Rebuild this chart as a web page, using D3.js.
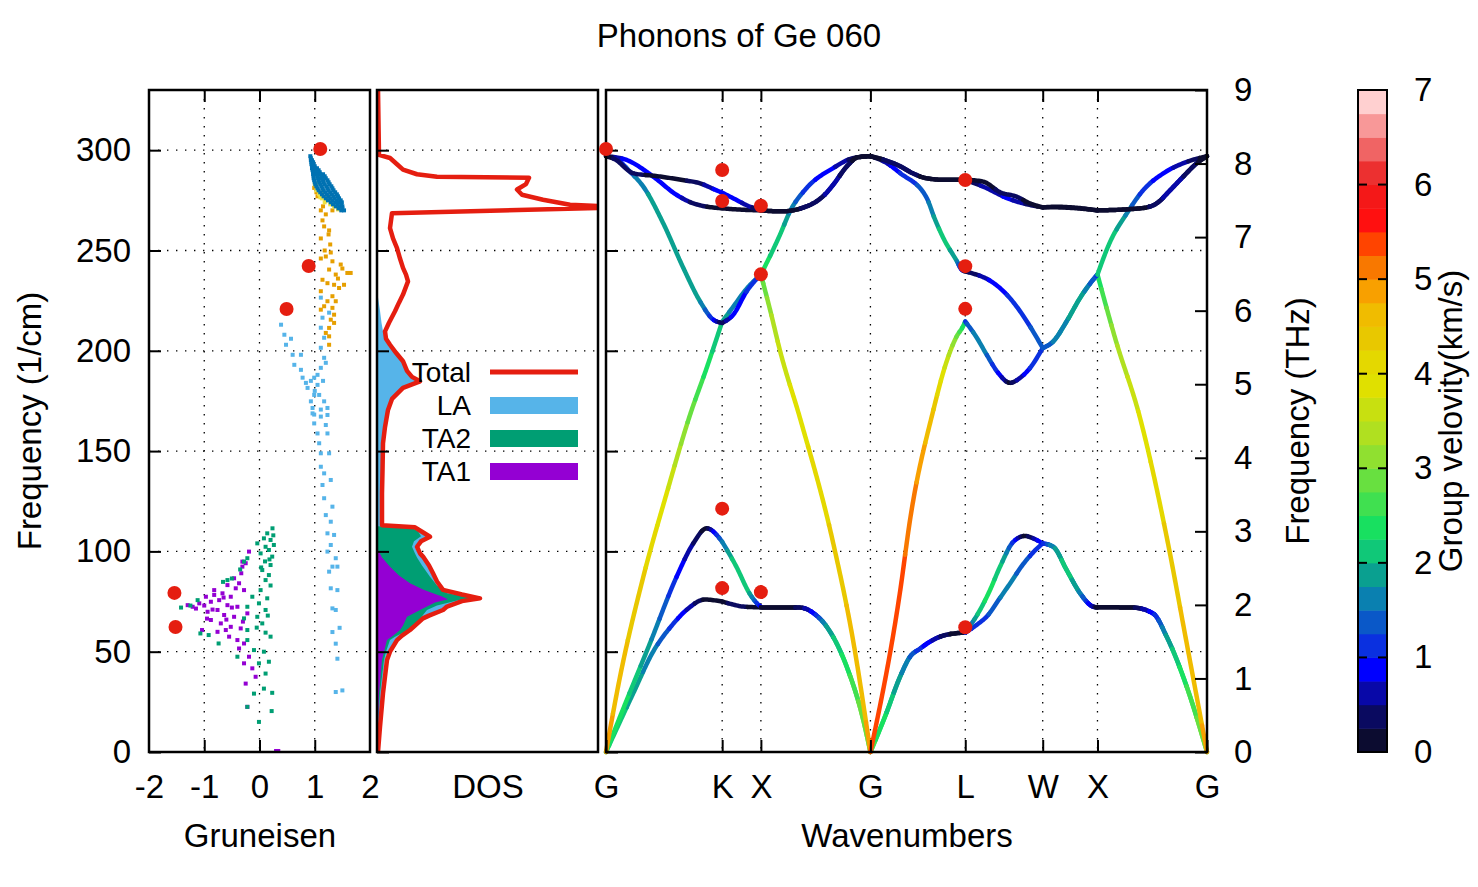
<!DOCTYPE html>
<html><head><meta charset="utf-8">
<script src="https://cdn.jsdelivr.net/npm/d3@7"></script>
<style>body{margin:0;background:#fff}</style>
</head><body>
<svg id="c" width="1478" height="887"></svg>
<script>
// ---------------- DATA ----------------
const freqTicks = [0,50,100,150,200,250,300];
const gruTicks = [-2,-1,0,1,2];
const thzTicks = [0,1,2,3,4,5,6,7,8,9];
const velTicks = [0,1,2,3,4,5,6,7];
const kLabels = ["G","K","X","G","L","W","X","G"];
const kTicks = [0,1.0607,1.4142,2.4142,3.2802,3.9873,4.4873,5.4873];
const legendLabels = ["Total","LA","TA2","TA1"];

// band branches: [k (2pi/a), frequency (1/cm), group velocity (km/s)]
const bandTA1 = [
[0,0,2.3],[0.249,29.3,1.9],[0.43,50,1.6],[0.60,63,1.2],[0.75,71.5,0.7],[0.90,76,0.2],[1.0607,75,0.2],
[1.16,73.5,0.3],[1.25,72.5,0.3],[1.4142,72.1,0.1],
[1.60,72,0.1],[1.771,72,0.3],[1.90,69,0.9],[2.015,62.5,1.8],[2.198,42.5,2.4],[2.349,16,2.9],[2.4142,0,3.0],
[2.4142,0,2.6],[2.55,18,2.3],[2.685,37.5,1.8],[2.776,47.5,1.5],[2.867,51.5,1.1],[2.93,54,0.9],[3.05,57.5,0.5],[3.17,59,0.2],[3.2802,59.5,0.1],
[3.2802,59.5,0.9],[3.40,64,1.1],[3.476,67.5,1.2],[3.60,77,1.5],[3.689,84,1.6],[3.80,93,1.4],[3.90,99.5,1.2],[3.9873,104,1.0],
[4.084,102.3,1.5],[4.206,90.7,2.0],[4.33,79,1.5],[4.45,72.4,0.5],[4.4873,72.1,0.1],
[4.65,72.1,0.1],[4.812,72,0.2],[4.997,69,0.9],[5.119,57.5,1.8],[5.302,32.6,2.5],[5.4873,0,3.0]
];
const bandTA2 = [
[0,0,2.3],[0.19,26,2.3],[0.40,54,1.8],[0.645,87.4,1.0],[0.797,104,0.5],[0.919,111.5,0.1],[1.0607,104.8,1.5],
[1.19,92.4,2.2],[1.31,79.1,2.0],[1.38,74,1.2],[1.4142,72.4,0.9],
[1.4142,72.1,0.1],[1.60,72,0.1],[1.771,72,0.3],[1.90,69,0.9],[2.015,62.5,1.8],[2.198,42.5,2.4],[2.349,16,2.9],[2.4142,0,3.0],
[2.4142,0,2.6],[2.55,18,2.3],[2.685,37.5,1.8],[2.776,47.5,1.5],[2.867,51.5,1.1],[2.93,54,0.9],[3.05,57.5,0.5],[3.17,59,0.2],[3.2802,59.5,0.1],
[3.2802,59.5,1.0],[3.415,70.8,2.2],[3.50,80,2.3],[3.598,92.4,2.2],[3.719,104.8,1.2],[3.826,107.7,0.1],[3.90,106.5,0.5],[3.9873,104,1.0],
[4.084,102.3,1.7],[4.206,90.7,2.2],[4.33,79,1.7],[4.45,72.4,0.6],[4.4873,72.1,0.1],
[4.65,72.1,0.1],[4.812,72,0.2],[4.997,69,0.9],[5.119,57.5,1.8],[5.302,32.6,2.5],[5.4873,0,3.0]
];
const bandLA = [
[0,0,4.9],[0.128,37.5,4.6],[0.341,87.4,4.3],[0.554,129,3.8],[0.77,168.5,2.9],[0.919,191.4,2.4],[1.0607,214.5,2.0],
[1.162,222,1.6],[1.285,231,1.6],[1.4142,238,1.7],
[1.4142,238,2.6],[1.50,220,3.2],[1.589,200,3.6],[1.771,166.5,3.9],[2.075,104,4.3],[2.258,55,4.6],[2.4142,0,4.8],
[2.4142,0,5.4],[2.685,80,5.3],[2.776,115.7,5.2],[2.989,170.5,4.5],[3.10,193,3.7],[3.20,207,3.0],[3.263,212.5,2.4],[3.2802,214.6,2.2],
[3.2802,214.6,1.2],[3.38,207,1.6],[3.476,198,1.5],[3.58,189,1.0],[3.689,184,0.2],[3.78,186.5,0.6],[3.871,191.4,1.0],[3.9873,201.4,1.2],
[4.084,204.7,1.8],[4.206,214.7,2.2],[4.328,226.3,2.2],[4.435,234.6,1.6],[4.4873,238,1.3],
[4.4873,238,2.3],[4.65,206,3.2],[4.876,166.5,3.8],[5.119,107.3,4.3],[5.302,54.2,4.6],[5.4873,0,4.8]
];
const bandLO = [
[0,297,0.1],[0.11,295,0.9],[0.219,289.3,1.4],[0.341,281.8,1.7],[0.523,263.5,1.9],[0.706,241.3,2.0],[0.858,224.7,1.8],[0.98,215.5,1.0],[1.0607,213.9,0.3],
[1.162,218,0.9],[1.285,229.7,1.0],[1.4142,238,1.2],
[1.4142,238,2.3],[1.589,257.9,2.2],[1.68,269.5,1.7],[1.833,281.2,1.1],[2.075,291.1,0.8],[2.258,296.1,0.4],[2.4142,297,0.1],
[2.55,294,0.6],[2.685,288.6,1.0],[2.928,276.2,1.4],[3.0,266,1.8],[3.08,256.2,2.2],[3.20,245,1.8],[3.248,240.4,0.9],[3.2802,239.6,0.2],
[3.38,238,0.4],[3.476,235.9,0.7],[3.57,232.5,0.9],[3.659,228,1.0],[3.75,222,1.1],[3.842,214.7,1.2],[3.9873,201.4,1.4],
[4.084,204.7,1.5],[4.206,214.7,1.7],[4.328,226.3,2.0],[4.435,234.6,1.4],[4.4873,238,1.2],
[4.4873,238,2.2],[4.60,254,2.2],[4.755,268.5,1.7],[4.907,280.2,1.1],[5.09,288.5,0.9],[5.27,293.5,0.6],[5.4873,297,0.1]
];
const bandTOa = [
[0,297,0.1],[0.08,295.5,0.3],[0.249,288.5,0.3],[0.46,287.1,0.2],[0.70,285.1,0.2],[0.858,283.5,0.4],[1.0,280.2,0.8],[1.0607,278.8,0.9],
[1.162,276,0.9],[1.315,271.8,0.6],[1.4142,270,0.1],
[1.60,269.5,0.1],[1.833,272,0.3],[2.0,278,0.5],[2.075,282.8,0.6],[2.20,292,0.4],[2.30,296.5,0.1],[2.4142,297,0],
[2.55,295,0.3],[2.685,292,0.3],[2.80,288.5,0.3],[2.928,286,0.2],[3.10,285.2,0],[3.2802,285.3,0],
[3.445,284.3,0.1],[3.60,279,0.3],[3.75,276.8,0.3],[3.87,273.5,0.2],[3.9873,271.5,0],
[4.10,271.8,0.1],[4.25,271.5,0.1],[4.4873,270,0],
[4.75,270.5,0.1],[4.937,271.5,0.2],[5.028,273.5,0.4],[5.15,280,0.6],[5.27,286.8,0.5],[5.394,293.5,0.3],[5.4873,297,0]
];
const bandTOb = [
[0,297,0.2],[0.189,295.1,0.9],[0.432,286.8,1.0],[0.645,277.7,0.9],[0.797,273.5,0.4],[1.0607,271,0.1],
[1.25,270.3,0],[1.4142,270,0],
[1.60,269.5,0.1],[1.833,272,0.3],[2.0,278,0.5],[2.075,282.8,0.6],[2.20,292,0.4],[2.30,296.5,0.1],[2.4142,297,0],
[2.55,295,0.3],[2.685,292,0.3],[2.80,288.5,0.3],[2.928,286,0.2],[3.10,285.2,0],[3.2802,285.3,0],
[3.445,281.8,0.6],[3.689,275.5,0.8],[3.87,272.7,0.4],[3.9873,271.5,0.1],
[4.10,271.5,0.1],[4.25,271.2,0.1],[4.4873,270,0],
[4.75,270.5,0.1],[4.937,271.5,0.2],[5.028,273.5,0.4],[5.15,280,0.6],[5.27,286.8,0.5],[5.394,293.5,0.3],[5.4873,297,0]
];
// experimental points on the band structure [k, freq]
const expBand = [[0,300.6],[1.0607,290.1],[1.0607,274.7],[1.0607,121.3],[1.0607,81.7],[1.4142,272.3],[1.4142,238.1],[1.4142,79.7],
[3.2802,285.1],[3.2802,242.2],[3.2802,220.9],[3.2802,62.2]];
// experimental Gruneisen [gamma, freq]
const expGru = [[1.10,300.6],[0.89,242.3],[0.49,220.8],[-1.54,79.3],[-1.52,62.3]];

// Gruneisen parameters [gamma, freq]
const gruTA1 = [[-0.19,99.9],[-0.31,94.9],[-0.25,94.1],[-0.31,92.4],[-0.33,89.1],[-0.46,86.6],[-0.37,84.1],[-0.58,83.2],[-0.43,81.6],[-0.82,80.7],[-0.28,80.7],[-0.67,79.1],[-0.82,78.3],[-0.52,77.4],[-0.97,77.4],[-0.73,75.7],[-0.88,74.9],[-1.09,74.1],[-1.3,73.2],[-0.58,73.2],[-1.21,72.4],[-0.4,72.4],[-0.76,70.8],[-0.94,69.9],[-0.22,69.1],[-0.64,68.3],[-0.46,67.4],[-0.88,65.8],[-0.7,64.1],[-0.52,62.4],[-0.34,61.6],[-1.04,60.8],[-0.61,60.8],[-0.76,59.9],[-0.4,55.8],[-0.28,54.1],[-0.37,51.6],[-0.19,47.5],[-0.28,44.2],[-0.13,41.7],[-0.07,37.5],[-0.25,34.1],[-0.22,22.5],[-1.0,73],[-0.65,77],[-0.5,72],[-0.85,71],[-0.6,66],[-0.3,65],[-1.15,71.5],[-0.95,66.5],[-0.55,57.5],[0.3,0.5],[0.34,0.5]];
const gruTA2 = [[0.235,111.5],[0.14,109],[0.08,106.5],[0.2,105.7],[-0.04,104],[0.26,103.2],[0.11,102.3],[0.17,100.7],[0.02,99],[0.23,97.4],[-0.22,96.6],[-0.28,94.9],[0.2,93.2],[0.05,90.7],[0.17,88.2],[-0.58,85.7],[-0.66,84.8],[0.11,85.7],[0.02,80.7],[-0.13,77.4],[0.14,76.6],[-1.12,75.7],[-1.42,72],[-0.01,74.1],[-0.22,72.4],[0.11,70.8],[-0.04,67.4],[-0.28,66.6],[0.05,64.1],[-0.22,60.8],[0.11,59.5],[-1.07,59.1],[-0.92,58.3],[0.2,57.5],[-0.22,55.8],[-0.1,50.8],[0.08,50],[-0.4,47.5],[-0.01,44.2],[0.17,45],[0.11,39.1],[0.08,31.6],[0.23,29.5],[-0.1,29.1],[-0.22,22.5],[0.22,20.4],[-0.01,15],[-0.74,54.1],[0.25,108],[0.18,96],[0.1,95],[-0.5,86.5],[-1.25,73],[0.2,83],[-0.05,62],[0.15,68],[-0.35,91],[0.03,92]];
const gruLA = [[0.39,213],[0.45,208],[0.57,206],[0.48,203],[0.6,198],[0.75,198],[0.63,193],[0.75,190.5],[0.78,186.6],[0.84,184],[0.93,185],[0.87,181.5],[0.99,186.6],[1.11,191.5],[1.17,196.5],[1.11,201.5],[1.17,206.5],[1.11,211.5],[1.14,216.5],[1.26,219],[1.11,226.5],[1.05,188],[0.99,178],[1.08,178],[0.93,174.8],[1.17,174.8],[0.96,171.5],[1.11,170.7],[1.23,171.5],[0.99,168.2],[0.96,168.8],[1.11,167.2],[1.23,168],[0.99,163.8],[1.2,163],[1.05,158.8],[1.23,158.8],[1.08,153.9],[1.11,148.9],[1.26,148.9],[1.11,142.2],[1.17,138.9],[1.29,135.6],[1.14,133.1],[1.17,126.5],[1.32,122.3],[1.2,118.1],[1.29,114.8],[1.23,109],[1.35,108.2],[1.29,103.2],[1.23,99.9],[1.38,96.6],[1.32,92.4],[1.41,92.4],[1.26,89.9],[1.29,81.6],[1.41,80.7],[1.32,71.6],[1.38,70.8],[1.32,59.8],[1.45,61.9],[1.38,54],[1.41,46.5],[1.38,29.9],[1.5,30.7],[1.0,180],[1.05,183],[1.15,185],[1.2,194]];
const gruLO = [[0.99,281.2],[1.05,277],[1.23,277],[1.11,270],[1.32,270],[1.14,265],[1.17,262],[1.26,260],[1.11,256],[1.28,253],[1.29,249],[1.11,246],[1.2,247],[1.32,244.6],[1.47,243],[1.26,240.5],[1.59,238.8],[1.65,238.8],[1.38,238],[1.14,235.4],[1.23,233.7],[1.35,232.9],[1.53,232.9],[1.44,231.3],[1.11,229.7],[1.32,227.2],[1.23,224.7],[1.38,224.7],[1.17,222.2],[1.32,221.4],[1.11,220.5],[1.35,218],[1.29,215.5],[1.35,213.9],[1.26,211.4],[1.2,208.9],[1.26,207.2],[1.26,203],[1.03,279],[1.15,272],[1.2,268],[1.25,258],[1.18,250],[1.42,236],[1.5,241]];
const gruTO1 = [[1.0,283],[1.03,280],[1.08,278],[1.13,276],[1.2,275],[1.28,273],[1.35,272],[1.42,270.5],[1.05,283.5],[1.15,279.5],[1.25,277],[1.18,274],[1.1,276.5],[1.3,275],[1.45,271.5]];
const gruTO2 = [[0.92,297],[0.93,296],[0.93,295],[0.95,295],[0.94,294],[0.97,294],[0.94,293],[0.98,293],[0.95,292],[1.0,292],[0.95,291],[1.0,291],[1.04,291],[0.96,290],[1.02,290],[1.07,290],[0.97,289],[1.03,289],[1.09,289],[0.97,288],[1.04,288],[1.1,288],[1.15,288],[0.98,287],[1.05,287],[1.12,287],[1.18,287],[0.98,286],[1.06,286],[1.13,286],[1.2,286],[0.99,285],[1.07,285],[1.15,285],[1.23,285],[1.0,284],[1.08,284],[1.16,284],[1.25,284],[1.01,283],[1.1,283],[1.18,283],[1.27,283],[1.03,282],[1.12,282],[1.21,282],[1.3,282],[1.05,281],[1.14,281],[1.23,281],[1.32,281],[1.07,280],[1.16,280],[1.25,280],[1.34,280],[1.1,279],[1.19,279],[1.28,279],[1.37,279],[1.13,278],[1.22,278],[1.31,278],[1.4,278],[1.16,277],[1.25,277],[1.34,277],[1.42,277],[1.2,276],[1.28,276],[1.36,276],[1.44,276],[1.24,275],[1.32,275],[1.4,275],[1.47,275],[1.29,274],[1.37,274],[1.44,274],[1.49,274],[1.33,273],[1.41,273],[1.48,273],[1.38,272],[1.45,272],[1.5,272],[1.43,271],[1.5,271],[1.48,270],[1.53,270]];

// density of states [freq, DOS] (cumulative stacking for partials)
const dosTotal = [[0,0.1],[12.6,0.3],[29.3,0.6],[45.9,1.0],[50,1.3],[55.8,2.0],[58,2.5],[60.8,3.3],[63,3.8],[66.6,4.6],[68,5.2],[70.8,6.6],[72.5,7.0],[75.2,8.5],[76.6,10.3],[78.5,8.5],[80.8,6.6],[85,6.0],[89.1,5.6],[93,5.2],[97.4,4.6],[99,4.3],[102.3,4.0],[105,4.4],[107.3,5.3],[109.8,4.5],[112,3.8],[113,0.5],[120,0.5],[129,0.5],[140,0.55],[153.9,0.6],[162,0.8],[170.5,1.1],[176,1.5],[181.5,2.6],[184.8,4.3],[187,3.5],[190,3.0],[194.8,2.6],[199,1.9],[203,1.3],[206,0.9],[209.7,0.8],[214,1.2],[219.7,1.8],[224,2.2],[228,2.6],[234.6,3.1],[238,2.9],[241.3,2.6],[246,2.3],[251.2,2.0],[256,1.6],[261.2,1.3],[268.6,1.5],[271.6,25],[272.8,19.3],[275.3,16.6],[277.8,14.5],[280.4,14.0],[283.1,14.9],[286.2,15.2],[286.8,6.0],[288,4.0],[290.3,2.6],[293,2.0],[296.1,1.3],[297.7,0.2],[330,0.1]];
const dosLA = [[0,0],[12.6,0.2],[29.3,0.45],[45.9,0.8],[50,1.1],[55.8,1.8],[58,2.3],[60.8,3.1],[63,3.6],[66.6,4.4],[68,5.0],[70.8,6.3],[72.5,6.7],[75.2,8.2],[76.6,10.0],[78.5,8.2],[80.8,6.3],[85,5.8],[89.1,5.4],[93,5.0],[97.4,4.4],[99,4.1],[102.3,3.8],[105,4.2],[107.3,5.1],[109.8,4.3],[112,3.6],[113,0.4],[130,0.4],[150,0.5],[160,0.7],[170.5,1.0],[176,1.4],[181.5,2.5],[184.8,4.2],[187,3.4],[190,2.9],[194.8,2.5],[199,1.8],[203,1.2],[206,0.85],[209.7,0.6],[214,0.45],[220,0.3],[225,0.15],[230,0]];
const dosTA2 = [[0,0],[12.6,0.1],[29.3,0.3],[45.9,0.7],[50,0.9],[55.8,1.3],[57.5,1.8],[60,2.8],[62,3.5],[64.2,4.0],[67,4.4],[70.8,5.0],[73,6.0],[75.5,8.0],[76.8,9.7],[79.1,7.0],[83,6.0],[87.4,5.3],[93,4.5],[97,4.0],[99,3.8],[102.3,3.5],[105,3.7],[107.5,4.4],[110,4.1],[112,3.4],[112.5,0]];
const dosTA1 = [[0,0],[12.6,0.1],[29.3,0.2],[45.9,0.5],[50,0.7],[55.8,1.0],[58,1.6],[60.8,2.3],[63,2.6],[67.4,3.0],[70.8,4.3],[72.5,5.0],[74.5,5.8],[76.1,7.1],[77.5,6.5],[79.1,5.6],[81,4.6],[84.1,3.3],[88,2.2],[92.4,1.3],[97,0.5],[100.7,0.1],[102,0]];

// ---------------- STYLE ----------------
const palette = ["#0c0c30","#0a0a60","#0808a8","#0000ff","#0a30e0","#0a58c8","#0a80b0","#0aa090",
"#10c878","#18e060","#40e050","#68e040","#90e030","#b0e020","#c8e010","#e0e000",
"#e4d800","#e8c800","#f0bc00","#f8a000","#f87800","#ff4400","#ff1010","#f41818",
"#ec3030","#f06464","#f89898","#ffd0d0"];
const FONT = '"Liberation Sans", Arial, Helvetica, sans-serif';
const FS = 33;
const FS_LEG = 28;
const RED = "#e51e10";
const C = {TA1:"#9400d3", TA2:"#009e73", LA:"#56b4e9", LO:"#e69f00", TO1:"#f0e442", TO2:"#0072b2"};

// ---------------- SCALES ----------------
const svg = d3.select("#c");
svg.append("rect").attr("width",1478).attr("height",887).attr("fill","#fff");
const yF = d3.scaleLinear().domain([0,330]).range([752,90]);
const xG = d3.scaleLinear().domain([-2,2]).range([149,370]);
const xD = d3.scaleLinear().domain([0,22.1]).range([377,598]);
const xK = d3.scaleLinear().domain([0,5.4873]).range([606,1207]);
const yT = d3.scaleLinear().domain([0,9]).range([752,90]);
const yV = d3.scaleLinear().domain([0,7]).range([752,90]);
const velColor = d3.scaleQuantize().domain([0,7]).range(palette);

const grid = svg.append("g").attr("stroke","#000").attr("stroke-width",1.3).attr("stroke-dasharray","1.4 7.6");
function gl(x1,y1,x2,y2){ grid.append("line").attr("x1",x1).attr("y1",y1).attr("x2",x2).attr("y2",y2); }
freqTicks.filter(f=>f>0).forEach(f=>{
  gl(xG.range()[0],yF(f),xG.range()[1],yF(f));
  gl(xD.range()[0],yF(f),xD.range()[1],yF(f));
  gl(xK.range()[0],yF(f),xK.range()[1],yF(f));
});
gruTicks.slice(1,-1).forEach(g=>gl(xG(g),yF(330),xG(g),yF(0)));
kTicks.slice(1,-1).forEach(k=>gl(xK(k),yF(330),xK(k),yF(0)));

// ---------------- GRUNEISEN ----------------
const gG = svg.append("g");
[[gruTA1,C.TA1],[gruTA2,C.TA2],[gruLA,C.LA],[gruLO,C.LO],[gruTO1,C.TO1],[gruTO2,C.TO2]].forEach(([arr,col])=>{
  gG.selectAll(null).data(arr).enter().append("rect")
    .attr("x",d=>xG(d[0])-2).attr("y",d=>yF(d[1])-2).attr("width",4).attr("height",4).attr("fill",col);
});

// ---------------- DOS ----------------
svg.append("clipPath").attr("id","clipD").append("rect").attr("x",377).attr("y",90).attr("width",221).attr("height",662);
const gD = svg.append("g").attr("clip-path","url(#clipD)");
const area = d3.area().y(d=>yF(d[0])).x0(xD(0)).x1(d=>xD(d[1]));
gD.append("path").attr("d",area(dosLA)).attr("fill",C.LA);
gD.append("path").attr("d",area(dosTA2)).attr("fill",C.TA2);
gD.append("path").attr("d",area(dosTA1)).attr("fill",C.TA1);
gD.append("path").attr("d",d3.line().x(d=>xD(d[1])).y(d=>yF(d[0]))(dosTotal))
  .attr("fill","none").attr("stroke",RED).attr("stroke-width",4.5).attr("stroke-linejoin","round");

// legend
const lg = svg.append("g").attr("font-family",FONT).attr("font-size",FS_LEG);
legendLabels.forEach((lab,i)=>{
  const yy = 372 + i*33;
  lg.append("text").attr("x",471).attr("y",yy+10).attr("text-anchor","end").text(lab);
  if(i===0) lg.append("line").attr("x1",490).attr("x2",578).attr("y1",yy).attr("y2",yy).attr("stroke",RED).attr("stroke-width",5);
  else lg.append("rect").attr("x",490).attr("y",yy-8).attr("width",88).attr("height",17)
    .attr("fill",[null,C.LA,C.TA2,C.TA1][i]);
});

// ---------------- BANDS ----------------
const gB = svg.append("g");
const lineK = d3.line().x(d=>xK(d[0])).y(d=>yF(d[1])).curve(d3.curveMonotoneX);
function segPts(br,a,b){
  const e=1e-4;
  const atA = br.filter(d=>Math.abs(d[0]-a)<e);
  const atB = br.filter(d=>Math.abs(d[0]-b)<e);
  const inner = br.filter(d=>d[0]>a+e && d[0]<b-e);
  return [atA[atA.length-1], ...inner, atB[0]].filter(Boolean);
}
function drawBranch(br){
  for(let i=0;i<kTicks.length-1;i++){
    const seg = segPts(br,kTicks[i],kTicks[i+1]);
    if(seg.length<2) continue;
    const vAt = d3.scaleLinear().domain(seg.map(d=>d[0])).range(seg.map(d=>d[2])).clamp(true);
    const p = gB.append("path").attr("d",lineK(seg)).attr("fill","none");
    const node = p.node(), L = node.getTotalLength();
    const n = Math.max(4, Math.ceil(L/1.5));
    const pts = [];
    for(let j=0;j<=n;j++){ const q=node.getPointAtLength(L*j/n); pts.push([q.x,q.y]); }
    p.remove();
    let cur=null, run=[];
    const emit=(r,c)=>gB.append("path").attr("d",d3.line()(r)).attr("fill","none").attr("stroke",c)
      .attr("stroke-width",4.5).attr("stroke-linecap","round").attr("stroke-linejoin","round");
    for(let j=1;j<pts.length;j++){
      const km = xK.invert((pts[j-1][0]+pts[j][0])/2);
      const c = velColor(vAt(km));
      if(c!==cur){ if(run.length>1) emit(run,cur); run=[pts[j-1]]; cur=c; }
      run.push(pts[j]);
    }
    if(run.length>1) emit(run,cur);
  }
}
[bandTA1,bandTA2,bandLA,bandLO,bandTOb,bandTOa].forEach(drawBranch);

// ---------------- COLORBAR ----------------
const cb = svg.append("g");
palette.forEach((col,i)=>{
  const v0 = i*7/palette.length, v1=(i+1)*7/palette.length;
  cb.append("rect").attr("x",1358).attr("width",29).attr("y",yV(v1)).attr("height",yV(v0)-yV(v1)+0.5).attr("fill",col);
});
cb.append("rect").attr("x",1358).attr("y",90).attr("width",29).attr("height",662).attr("fill","none").attr("stroke","#000").attr("stroke-width",2);
velTicks.forEach(v=>{
  cb.append("line").attr("x1",1358).attr("x2",1367).attr("y1",yV(v)).attr("y2",yV(v)).attr("stroke","#000").attr("stroke-width",2);
  cb.append("line").attr("x1",1378).attr("x2",1387).attr("y1",yV(v)).attr("y2",yV(v)).attr("stroke","#000").attr("stroke-width",2);
});

// ---------------- AXES & BORDERS ----------------
function styleAxis(g){
  g.select(".domain").remove();
  g.attr("font-family",FONT).attr("font-size",FS);
  g.selectAll(".tick line").attr("stroke","#000").attr("stroke-width",2);
  g.selectAll(".tick text").attr("fill","#000");
}
const fmtInt = d3.format("d");
// Gruneisen
svg.append("g").attr("transform","translate(149,0)").call(d3.axisLeft(yF).tickValues(freqTicks).tickFormat(fmtInt).tickSize(-12).tickPadding(18)).call(styleAxis);
svg.append("g").attr("transform","translate(0,752)").call(d3.axisBottom(xG).tickValues(gruTicks).tickFormat(d=>d<0?"-"+Math.abs(d):String(d)).tickSize(-12).tickPadding(23)).call(styleAxis)
  .selectAll(".tick").filter(d=>d===-2||d===2).select("line").remove();
svg.append("g").attr("transform","translate(0,90)").call(d3.axisTop(xG).tickValues([-1,0,1]).tickFormat("").tickSize(-12)).call(styleAxis);
// DOS
svg.append("g").attr("transform","translate(377,0)").call(d3.axisLeft(yF).tickValues(freqTicks).tickFormat("").tickSize(-12)).call(styleAxis);
// Bands
svg.append("g").attr("transform","translate(606,0)").call(d3.axisLeft(yF).tickValues(freqTicks).tickFormat("").tickSize(-12)).call(styleAxis);
svg.append("g").attr("transform","translate(1207,0)").call(d3.axisRight(yT).tickValues(thzTicks).tickFormat(fmtInt).tickSize(-12).tickPadding(27)).call(styleAxis);
svg.append("g").attr("transform","translate(0,752)").call(d3.axisBottom(xK).tickValues(kTicks).tickFormat((d,i)=>kLabels[i]).tickSize(-12).tickPadding(23)).call(styleAxis);
svg.append("g").attr("transform","translate(0,90)").call(d3.axisTop(xK).tickValues(kTicks.slice(1,-1)).tickFormat("").tickSize(-12)).call(styleAxis);
// colorbar axis
svg.append("g").attr("transform","translate(1387,0)").call(d3.axisRight(yV).tickValues(velTicks).tickFormat(fmtInt).tickSize(0).tickPadding(27)).call(styleAxis);

const border = svg.append("g").attr("fill","none").attr("stroke","#000").attr("stroke-width",2.5);
border.append("rect").attr("x",149).attr("y",90).attr("width",221).attr("height",662);
border.append("rect").attr("x",377).attr("y",90).attr("width",221).attr("height",662);
border.append("rect").attr("x",606).attr("y",90).attr("width",601).attr("height",662);

// experimental points
svg.append("g").selectAll(null).data(expGru).enter().append("circle")
  .attr("cx",d=>xG(d[0])).attr("cy",d=>yF(d[1])).attr("r",7).attr("fill",RED);
svg.append("g").selectAll(null).data(expBand).enter().append("circle")
  .attr("cx",d=>xK(d[0])).attr("cy",d=>yF(d[1])).attr("r",7).attr("fill",RED);

// ---------------- TEXT ----------------
const tg = svg.append("g").attr("font-family",FONT).attr("font-size",FS).attr("fill","#000");
tg.append("text").attr("x",739).attr("y",47).attr("text-anchor","middle").text("Phonons of Ge 060");
tg.append("text").attr("x",260).attr("y",847).attr("text-anchor","middle").text("Gruneisen");
tg.append("text").attr("x",488).attr("y",798).attr("text-anchor","middle").text("DOS");
tg.append("text").attr("x",907).attr("y",847).attr("text-anchor","middle").text("Wavenumbers");
tg.append("text").attr("transform","translate(41,421) rotate(-90)").attr("text-anchor","middle").text("Frequency (1/cm)");
tg.append("text").attr("transform","translate(1309,421) rotate(-90)").attr("text-anchor","middle").text("Frequency (THz)");
tg.append("text").attr("transform","translate(1462,421) rotate(-90)").attr("text-anchor","middle").text("Group velovity(km/s)");
</script>
</body></html>
